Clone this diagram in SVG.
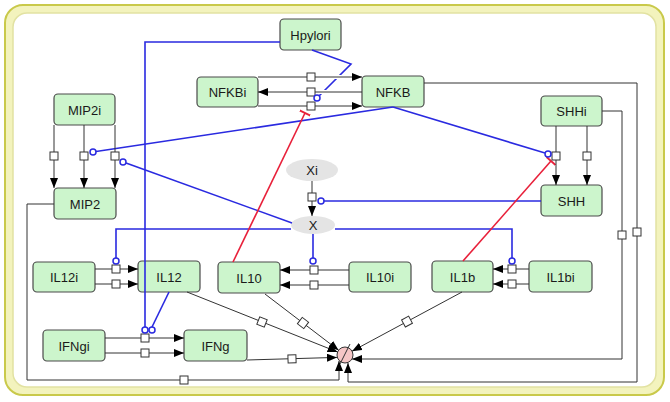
<svg xmlns="http://www.w3.org/2000/svg" width="670" height="402" viewBox="0 0 670 402">
<style>
.node rect{fill:#ccf5cc;stroke:#4a4a4a;stroke-width:1.2}
.node ellipse{fill:#e4e4e4;stroke:none}
text{font-family:"Liberation Sans",Arial,sans-serif;font-size:13px;fill:#1a1a1a;text-anchor:middle;dominant-baseline:central}
.k{fill:none;stroke:#333;stroke-width:1}
.halo{fill:none;stroke:#fff;stroke-width:4}
.b{fill:none;stroke:#2a2ae0;stroke-width:1.6}
.r{fill:none;stroke:#e8203a;stroke-width:1.6}
.sq{fill:#fff;stroke:#333;stroke-width:1}
.mod{fill:#fff;stroke:#2a2ae0;stroke-width:1.5}
.a{marker-end:url(#arr)}
.inh{marker-end:url(#bar)}
</style>
<defs>
<marker id="arr" viewBox="0 0 10 8" refX="10" refY="4" markerWidth="10" markerHeight="8" markerUnits="userSpaceOnUse" orient="auto"><path d="M0,0 L10,4 L0,8 z" fill="#000"/></marker>
<marker id="bar" viewBox="0 0 4 12" refX="2" refY="6" markerWidth="4" markerHeight="12" markerUnits="userSpaceOnUse" orient="auto"><path d="M2,0 L2,12" stroke="#e8203a" stroke-width="1.8"/></marker>
<rect id="s" x="-4" y="-4" width="8" height="8" class="sq"/>
</defs>
<rect x="5" y="5" width="659" height="390" rx="18" fill="#f3f3bd" stroke="#c9c94a" stroke-width="2"/>
<rect x="13" y="13" width="643" height="374" rx="14" fill="#fff" stroke="#e2e2a2" stroke-width="1.5"/>
<g id="Hpylori" class="node"><rect x="280" y="19" width="61" height="31" rx="4"/><text x="310.5" y="35">Hpylori</text></g>
<g id="NFKBi" class="node"><rect x="197" y="77" width="61" height="30" rx="4"/><text x="227.5" y="92.5">NFKBi</text></g>
<g id="NFKB" class="node"><rect x="362" y="76" width="62" height="31" rx="4"/><text x="393" y="92">NFKB</text></g>
<g id="MIP2i" class="node"><rect x="54" y="94" width="61" height="31" rx="4"/><text x="84.5" y="110">MIP2i</text></g>
<g id="MIP2" class="node"><rect x="54" y="188" width="62" height="31" rx="4"/><text x="85" y="204">MIP2</text></g>
<g id="SHHi" class="node"><rect x="541" y="96" width="61" height="30" rx="4"/><text x="571.5" y="111.5">SHHi</text></g>
<g id="SHH" class="node"><rect x="541" y="185" width="61" height="31" rx="4"/><text x="571.5" y="201">SHH</text></g>
<g id="Xi" class="node"><ellipse cx="312" cy="170" rx="26" ry="11"/><text x="312" y="170.5">Xi</text></g>
<g id="X" class="node"><ellipse cx="313" cy="225" rx="22" ry="9"/><text x="313" y="225.5">X</text></g>
<g id="IL12i" class="node"><rect x="33" y="262" width="62" height="30" rx="4"/><text x="64" y="277.5">IL12i</text></g>
<g id="IL12" class="node"><rect x="138" y="261" width="62" height="31" rx="4"/><text x="169" y="277">IL12</text></g>
<g id="IL10" class="node"><rect x="218" y="262" width="62" height="31" rx="4"/><text x="249" y="278">IL10</text></g>
<g id="IL10i" class="node"><rect x="349" y="262" width="62" height="30" rx="4"/><text x="380" y="277.5">IL10i</text></g>
<g id="IL1b" class="node"><rect x="432" y="261" width="61" height="31" rx="4"/><text x="462.5" y="277">IL1b</text></g>
<g id="IL1bi" class="node"><rect x="529" y="261" width="63" height="31" rx="4"/><text x="560.5" y="277">IL1bi</text></g>
<g id="IFNgi" class="node"><rect x="43" y="330" width="62" height="31" rx="4"/><text x="74" y="346">IFNgi</text></g>
<g id="IFNg" class="node"><rect x="184" y="330" width="63" height="31" rx="4"/><text x="215.5" y="346">IFNg</text></g>
<g id="sink" class="node"><circle cx="345" cy="355" r="8" fill="#f5c6c6" stroke="#333" stroke-width="1"/><path d="M350,344 L340,364" stroke="#333" stroke-width="1" fill="none"/></g>
<g id="connectors">
<!-- blue modifiers -->
<path class="b" d="M280,42 H145 V327"/>
<path class="b" d="M312,50 L351,64 L319,96"/>
<path class="b" d="M169,292 L152,327"/>
<path class="b" d="M393,107 L96,151.5"/>
<path class="b" d="M393,107 L545,153"/>
<path class="b" d="M292,223 L126,163"/>
<path class="b" d="M541,201 H324"/>
<path class="b" d="M291,229 H116 V258"/>
<path class="b" d="M335,229 H512 V258"/>
<path class="b" d="M313,234 V258"/>
<!-- red inhibitions -->
<path class="r inh" d="M233,262 L305,113"/>
<path class="r inh" d="M463,261 L551,161"/>
<!-- NFKB / NFKBi reactions -->
<path class="halo" d="M262,77 H356 M262,92 H356 M262,106 H356"/>
<path class="k a" d="M258,77 H362"/>
<path class="k a" d="M362,92 H258"/>
<path class="k a" d="M258,106 H362"/>
<!-- MIP2i -> MIP2 -->
<path class="k a" d="M54,125 V188"/>
<path class="k a" d="M84,125 V188"/>
<path class="k a" d="M115,125 V188"/>
<!-- SHHi -> SHH -->
<path class="k a" d="M556,126 V185"/>
<path class="k a" d="M587,126 V185"/>
<!-- Xi -> X -->
<path class="k a" d="M312,181 V216"/>
<!-- input pairs -->
<path class="k a" d="M95,269 H138"/>
<path class="k a" d="M95,284 H138"/>
<path class="k a" d="M349,270 H280"/>
<path class="k a" d="M349,285 H280"/>
<path class="k a" d="M529,269 H493"/>
<path class="k a" d="M529,284 H493"/>
<path class="k a" d="M105,338 H184"/>
<path class="k a" d="M105,353 H184"/>
<!-- degradation -->
<path class="k a" d="M187,292 L337.6,352"/>
<path class="k a" d="M265,294 L338.6,350.2"/>
<path class="k a" d="M462,292 L352,351.2"/>
<path class="k a" d="M247,360 L337,357.4"/>
<path class="k a" d="M54,204 H27 V380 H339 V361"/>
<path class="k a" d="M424,83 H637 V382 H348 V363"/>
<path class="k a" d="M602,111 H622 V359 H352"/>
<!-- process squares -->
<use href="#s" x="311" y="77"/><use href="#s" x="311" y="92"/><use href="#s" x="311" y="106"/>
<use href="#s" x="54" y="156"/><use href="#s" x="84" y="156"/><use href="#s" x="115" y="156"/>
<use href="#s" x="556" y="156"/><use href="#s" x="587" y="156"/>
<use href="#s" x="312" y="197"/>
<use href="#s" x="116" y="269"/><use href="#s" x="116" y="284"/>
<use href="#s" x="314" y="270"/><use href="#s" x="314" y="285"/>
<use href="#s" x="512" y="269"/><use href="#s" x="512" y="284"/>
<use href="#s" x="145" y="338"/><use href="#s" x="145" y="353"/>
<use href="#s" transform="translate(262,322) rotate(21.7)"/>
<use href="#s" transform="translate(303,323) rotate(37.3)"/>
<use href="#s" transform="translate(407,321.6) rotate(-28.3)"/>
<use href="#s" transform="translate(292,358.8) rotate(-1.7)"/>
<use href="#s" x="184" y="380"/>
<use href="#s" x="637" y="232"/><use href="#s" x="622" y="235"/>
<!-- modifier circles -->
<circle class="mod" cx="145" cy="330" r="3"/>
<circle class="mod" cx="152" cy="330" r="3"/>
<circle class="mod" cx="317" cy="98" r="3"/>
<circle class="mod" cx="93" cy="152" r="3"/>
<circle class="mod" cx="123" cy="162" r="3"/>
<circle class="mod" cx="548" cy="154" r="3"/>
<circle class="mod" cx="321" cy="201" r="3"/>
<circle class="mod" cx="116" cy="261" r="3"/>
<circle class="mod" cx="512" cy="261" r="3"/>
<circle class="mod" cx="313" cy="261" r="3"/>
</g>
</svg>
